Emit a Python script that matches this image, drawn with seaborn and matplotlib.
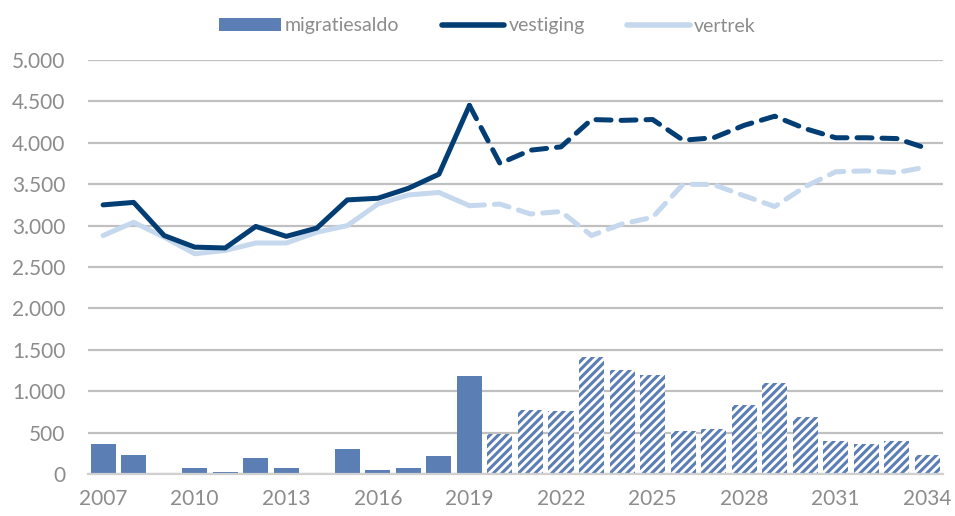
import matplotlib
matplotlib.use("Agg")
import matplotlib.pyplot as plt
from matplotlib.patches import Patch
from matplotlib.lines import Line2D
import seaborn as sns
import pandas as pd

# jaren en waarden
jaren = list(range(2007, 2035))
saldo = [360, 230, 0, 80, 30, 200, 80, 0, 310, 45, 80, 215, 1190,
         480, 775, 765, 1410, 1255, 1195, 525, 540, 835, 1095, 685, 405, 370, 405, 235]
vestiging = [3250, 3280, 2880, 2740, 2730, 2990, 2870, 2970, 3310, 3330, 3450, 3620, 4450,
             3750, 3910, 3950, 4280, 4270, 4280, 4030, 4060, 4210, 4320, 4170, 4060, 4060, 4050, 3930]
vertrek = [2880, 3040, 2860, 2660, 2700, 2790, 2790, 2920, 3000, 3260, 3370, 3400, 3240,
           3260, 3140, 3170, 2880, 3020, 3100, 3500, 3495, 3360, 3230, 3470, 3650, 3660, 3640, 3710]
laatste_waarneming = 2019
xticks = list(range(2007, 2035, 3))

df = pd.DataFrame({"jaar": jaren, "saldo": saldo, "vestiging": vestiging, "vertrek": vertrek})
waarg = df[df.jaar <= laatste_waarneming]
prog_bar = df[df.jaar > laatste_waarneming]
prog_lijn = df[df.jaar >= laatste_waarneming]

c_bar = "#5b7fb5"
c_vest = "#023e73"
c_vertr = "#c6d8ed"
c_text = "#8c8c8c"
c_grid = "#c0c0c0"

sns.set_style("white")
plt.rcParams["font.family"] = ["Lato", "DejaVu Sans"]
plt.rcParams["hatch.linewidth"] = 2.2

fig = plt.figure(figsize=(9.55, 5.16), dpi=100)
ax = fig.add_axes([0.092, 0.081, 0.895, 0.803])

sns.barplot(data=waarg, x="jaar", y="saldo", native_scale=True, color=c_bar,
            saturation=1, width=0.82, linewidth=0, ax=ax)
n_vast = len(ax.patches)
sns.barplot(data=prog_bar, x="jaar", y="saldo", native_scale=True, color=c_bar,
            saturation=1, width=0.82, linewidth=0, ax=ax)
for p in ax.patches[n_vast:]:
    p.set_facecolor("white")
    p.set_edgecolor(c_bar)
    p.set_hatch("////")
    p.set_linewidth(0)

kw = dict(linewidth=3.6, solid_capstyle="round", dash_capstyle="round")
sns.lineplot(data=waarg, x="jaar", y="vertrek", color=c_vertr, ax=ax, **kw)
sns.lineplot(data=prog_lijn, x="jaar", y="vertrek", color=c_vertr, ax=ax,
             dashes=False, linestyle=(0, (3.0, 2.0)), **kw)
sns.lineplot(data=waarg, x="jaar", y="vestiging", color=c_vest, ax=ax, **kw)
sns.lineplot(data=prog_lijn, x="jaar", y="vestiging", color=c_vest, ax=ax,
             dashes=False, linestyle=(0, (3.0, 2.0)), **kw)

ax.set_xlim(2006.5, 2034.5)
ax.set_ylim(0, 5000)
ax.set_yticks(range(0, 5001, 500))
ax.set_yticklabels([f"{v:,}".replace(",", ".") for v in range(0, 5001, 500)])
ax.set_xticks(xticks)
ax.set_xticklabels([str(j) for j in xticks])
ax.grid(axis="y", color=c_grid, linewidth=1.6, zorder=0)
ax.set_axisbelow(True)
ax.tick_params(axis="both", length=0, labelsize=15, labelcolor=c_text)
ax.tick_params(axis="y", pad=16)
ax.tick_params(axis="x", pad=11)
ax.set_xlabel("")
ax.set_ylabel("")
for s in ["top", "right", "left"]:
    ax.spines[s].set_visible(False)
ax.spines["bottom"].set_color("#d0d0d0")
ax.spines["bottom"].set_linewidth(1.6)

handles = [Patch(facecolor=c_bar, edgecolor="none"),
           Line2D([], [], color=c_vest, linewidth=4, solid_capstyle="round"),
           Line2D([], [], color=c_vertr, linewidth=4, solid_capstyle="round")]
fig.legend(handles, ["migratiesaldo", "vestiging", "vertrek"], loc="upper center",
           bbox_to_anchor=(0.51, 1.0), ncol=3, frameon=False, fontsize=14,
           labelcolor=c_text, handlelength=3.2, handleheight=0.6, handletextpad=0.2,
           columnspacing=2.2)

fig.savefig("out.png", dpi=100)
